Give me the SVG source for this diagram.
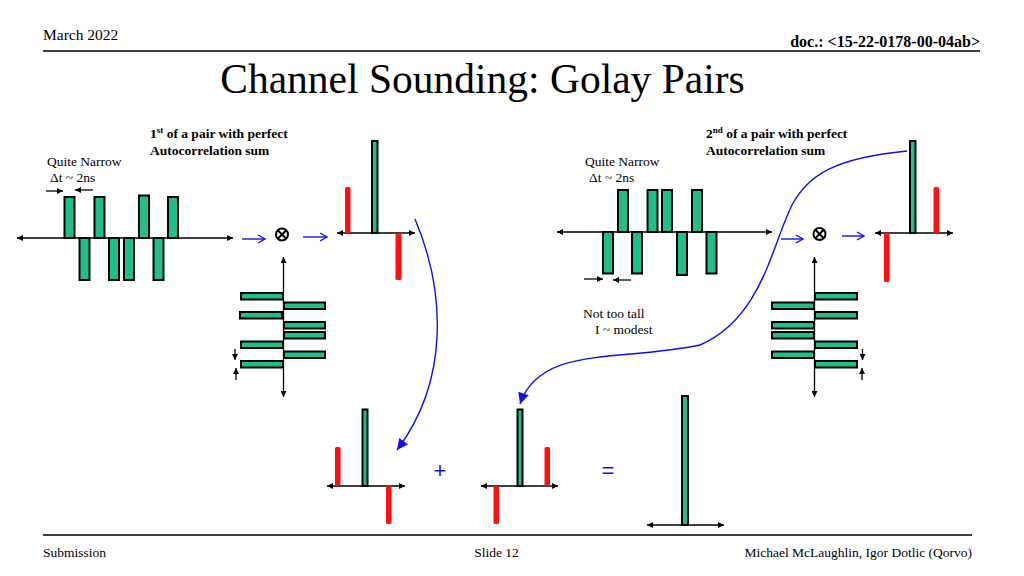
<svg xmlns="http://www.w3.org/2000/svg" width="1024" height="576" viewBox="0 0 1024 576">
<defs>
<marker id="ah" viewBox="0 0 10 10" refX="10" refY="5" markerWidth="7" markerHeight="6" markerUnits="userSpaceOnUse" orient="auto-start-reverse"><path d="M0,0 L10,5 L0,10 z" fill="#000"/></marker>
<marker id="bh" viewBox="0 0 10 10" refX="10" refY="5" markerWidth="14" markerHeight="11" markerUnits="userSpaceOnUse" orient="auto"><path d="M0,0 L10,5 L0,10 z" fill="#1010e6"/></marker>
<style>
.t{font-family:"Liberation Serif","Times New Roman",serif;fill:#000}
.b{font-weight:bold}
.g{fill:#20be8c;stroke:#000;stroke-width:2}
.r{fill:#ff0f0f}
.ax{stroke:#000;stroke-width:1.3;fill:none;marker-start:url(#ah);marker-end:url(#ah)}
.sa{stroke:#000;stroke-width:1.3;fill:none;marker-end:url(#ah)}
.bl{stroke:#1010e6;stroke-width:1.4;fill:none}
.op{stroke:#000;stroke-width:2;fill:none}
.bt{font-family:"Liberation Sans",Arial,sans-serif;fill:#1010e6}
</style>
</defs>
<rect width="1024" height="576" fill="#fff"/>

<g id="header">
<text class="t" x="43" y="40" font-size="15.5">March 2022</text>
<text class="t b" x="980" y="47" font-size="16" text-anchor="end">doc.: &lt;15-22-0178-00-04ab&gt;</text>
<line x1="43" y1="51" x2="980" y2="51" stroke="#000" stroke-width="1.3"/>
</g>
<g id="title">
<text class="t" x="482.5" y="93" font-size="41.5" text-anchor="middle">Channel Sounding: Golay Pairs</text>
</g>

<g id="waveform1">
<text class="t" x="47" y="166" font-size="13.5">Quite Narrow</text>
<text class="t" x="50" y="182" font-size="13.5">Δt ~ 2ns</text>
<line class="sa" x1="46" y1="191" x2="63" y2="191"/>
<line class="sa" x1="93" y1="190" x2="75" y2="190"/>
<line class="ax" x1="17" y1="238" x2="233" y2="238"/>
<rect class="g" x="64.5" y="197" width="10" height="41"/>
<rect class="g" x="94.5" y="197" width="10" height="41"/>
<rect class="g" x="139" y="195.5" width="10" height="42.5"/>
<rect class="g" x="168" y="197" width="10" height="41"/>
<rect class="g" x="79.5" y="238" width="10" height="42"/>
<rect class="g" x="109" y="238" width="10" height="42"/>
<rect class="g" x="124" y="238" width="10" height="42"/>
<rect class="g" x="153.5" y="238" width="10" height="42"/>
</g>

<g id="label1">
<text class="t b" x="150" y="138" font-size="13.5">1<tspan font-size="9" dy="-5">st</tspan><tspan dy="5"> of a pair with perfect</tspan></text>
<text class="t b" x="150" y="155" font-size="13.5">Autocorrelation sum</text>
</g>

<g id="multiply1">
<line class="bl" x1="242" y1="239" x2="265" y2="239"/>
<polyline class="bl" points="258,235 265,239 258,243"/>
<circle class="op" cx="282" cy="234.5" r="6"/>
<line class="op" x1="278" y1="230.5" x2="286" y2="238.5" stroke-width="1.5"/>
<line class="op" x1="286" y1="230.5" x2="278" y2="238.5" stroke-width="1.5"/>
<line class="bl" x1="303" y1="237" x2="327" y2="237"/>
<polyline class="bl" points="320,233 327,237 320,241"/>
</g>

<g id="hbars1">
<line class="ax" x1="283.5" y1="257" x2="283.5" y2="397"/>
<rect class="g" x="241" y="293" width="42" height="6.5"/>
<rect class="g" x="284" y="302.5" width="41" height="6.5"/>
<rect class="g" x="240" y="312" width="42" height="6.5"/>
<rect class="g" x="284" y="322" width="41" height="6.5"/>
<rect class="g" x="284" y="332" width="41" height="6.5"/>
<rect class="g" x="241" y="341.5" width="42" height="6.5"/>
<rect class="g" x="284" y="351.5" width="41" height="6.5"/>
<rect class="g" x="241" y="361" width="42" height="6.5"/>
<line class="sa" x1="235" y1="349" x2="235" y2="360"/>
<line class="sa" x1="236" y1="380" x2="236" y2="368"/>
</g>

<g id="autocorr1">
<line class="ax" x1="337" y1="233" x2="415" y2="233"/>
<rect class="g" x="372" y="141" width="5.5" height="92"/>
<rect class="r" x="345" y="187" width="5.5" height="46" rx="1.5"/>
<rect class="r" x="395.5" y="233" width="6" height="47" rx="1.5"/>
</g>

<g id="waveform2">
<text class="t" x="585" y="166" font-size="13.5">Quite Narrow</text>
<text class="t" x="589" y="182" font-size="13.5">Δt ~ 2ns</text>
<line class="ax" x1="557" y1="232" x2="772" y2="232"/>
<rect class="g" x="618" y="190" width="10" height="42"/>
<rect class="g" x="647.5" y="190" width="10" height="42"/>
<rect class="g" x="662" y="190" width="10" height="42"/>
<rect class="g" x="692" y="190" width="10" height="42"/>
<rect class="g" x="603" y="232" width="10" height="41.5"/>
<rect class="g" x="632" y="232" width="10" height="41.5"/>
<rect class="g" x="677" y="232" width="10" height="43"/>
<rect class="g" x="706.5" y="232" width="10" height="41.5"/>
<line class="sa" x1="584" y1="279" x2="603" y2="279"/>
<line class="sa" x1="631" y1="280" x2="613" y2="280"/>
</g>

<g id="label2">
<text class="t b" x="706" y="138" font-size="13.5">2<tspan font-size="9" dy="-5">nd</tspan><tspan dy="5"> of a pair with perfect</tspan></text>
<text class="t b" x="706" y="155" font-size="13.5">Autocorrelation sum</text>
</g>

<g id="multiply2">
<line class="bl" x1="781" y1="239" x2="803" y2="239"/>
<polyline class="bl" points="796,235 803,239 796,243"/>
<circle class="op" cx="819.5" cy="234" r="6"/>
<line class="op" x1="815.5" y1="230" x2="823.5" y2="238" stroke-width="1.5"/>
<line class="op" x1="823.5" y1="230" x2="815.5" y2="238" stroke-width="1.5"/>
<line class="bl" x1="842" y1="236" x2="864" y2="236"/>
<polyline class="bl" points="857,232 864,236 857,240"/>
</g>

<g id="hbars2">
<line class="ax" x1="814.5" y1="257" x2="814.5" y2="397"/>
<rect class="g" x="815" y="293" width="42" height="6.5"/>
<rect class="g" x="772" y="302.5" width="42" height="6.5"/>
<rect class="g" x="815" y="312" width="42" height="6.5"/>
<rect class="g" x="772" y="322" width="42" height="6.5"/>
<rect class="g" x="772" y="332" width="42" height="6.5"/>
<rect class="g" x="815" y="341.5" width="42" height="6.5"/>
<rect class="g" x="772" y="351.5" width="42" height="6.5"/>
<rect class="g" x="815" y="361" width="42" height="6.5"/>
<line class="sa" x1="862.5" y1="349" x2="862.5" y2="360"/>
<line class="sa" x1="862" y1="380" x2="862" y2="368"/>
</g>

<g id="autocorr2">
<line class="ax" x1="875" y1="233" x2="953" y2="233"/>
<rect class="g" x="910" y="141" width="5.5" height="92"/>
<rect class="r" x="884" y="233" width="5.5" height="49" rx="1.5"/>
<rect class="r" x="933.5" y="187" width="5.5" height="46" rx="1.5"/>
</g>

<g id="note">
<text class="t" x="583" y="318" font-size="13.5">Not too tall</text>
<text class="t" x="595" y="334" font-size="13.5">I ~ modest</text>
</g>

<g id="sum1">
<line class="ax" x1="327" y1="486" x2="405" y2="486"/>
<rect class="g" x="362.5" y="409.5" width="5" height="76.5"/>
<rect class="r" x="335" y="447" width="5.5" height="39" rx="1.5"/>
<rect class="r" x="386" y="486" width="5.5" height="38" rx="1.5"/>
</g>
<g id="plus"><text class="bt" x="440" y="478" font-size="22" text-anchor="middle">+</text></g>
<g id="sum2">
<line class="ax" x1="481" y1="486" x2="558" y2="486"/>
<rect class="g" x="517.5" y="409.5" width="5" height="76.5"/>
<rect class="r" x="493.5" y="486" width="5.5" height="38" rx="1.5"/>
<rect class="r" x="544.5" y="447" width="5.5" height="39" rx="1.5"/>
</g>
<g id="equals"><text class="bt" x="608" y="478" font-size="22" text-anchor="middle">=</text></g>
<g id="result">
<line class="ax" x1="647" y1="525" x2="724" y2="525"/>
<rect class="g" x="682" y="396" width="6" height="129"/>
</g>

<g id="connectors">
<path class="bl" d="M415,219 C445,290 450,380 397,450" marker-end="url(#bh)"/>
<path class="bl" d="M907,151 C835,158 808,175 792,205 C772,245 762,318 700,345 C620,362 540,345 520,404" marker-end="url(#bh)"/>
</g>

<g id="footer">
<line x1="43" y1="535" x2="972" y2="535" stroke="#000" stroke-width="1.3"/>
<text class="t" x="43" y="557" font-size="13.5">Submission</text>
<text class="t" x="496.5" y="557" font-size="13.5" text-anchor="middle">Slide 12</text>
<text class="t" x="972" y="557" font-size="13.5" text-anchor="end">Michael McLaughlin, Igor Dotlic (Qorvo)</text>
</g>
</svg>
